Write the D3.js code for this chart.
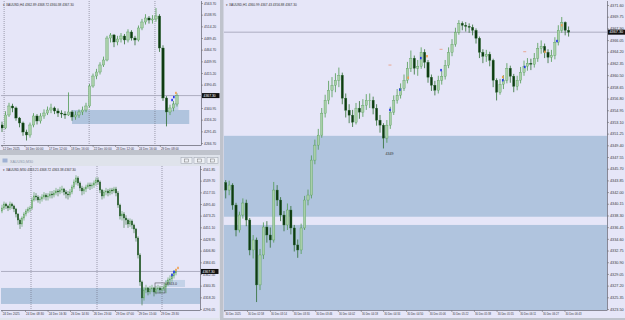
<!DOCTYPE html>
<html>
<head>
<meta charset="utf-8">
<script src="https://cdn.jsdelivr.net/npm/d3@7"></script>
<style>
    body { margin: 0; background: #bfc3cc; }
    svg { display: block; }
</style>
</head>
<body>
<div id="chart"></div>
<script>
// ---------- H4 (左上) ----------
var h4Open0 = 4305;
var h4Close = [4298.5, 4326.1, 4345.2, 4341.0, 4319.7, 4309.1, 4290.0, 4283.7, 4304.9, 4324.0,
    4313.4, 4324.0, 4330.3, 4336.7, 4341.0, 4334.6, 4330.3, 4328.2, 4326.1, 4332.5,
    4321.9, 4326.1, 4332.5, 4336.7, 4345.2, 4387.6, 4408.8, 4417.3, 4432.2, 4442.8,
    4489.4, 4495.8, 4481.0, 4487.3, 4493.7, 4485.2, 4502.2, 4489.4, 4485.2, 4510.7,
    4523.4, 4531.9, 4527.6, 4529.8, 4536.1, 4468.2, 4362.2, 4332.5, 4341.0, 4349.4, 4367.3];
var h4High = [4312, 4334, 4352, 4350, 4344, 4322, 4312, 4295, 4310, 4330,
    4328, 4330, 4338, 4344, 4350, 4344, 4340, 4336, 4334, 4374,
    4336, 4334, 4338, 4344, 4352, 4392, 4414, 4424, 4438, 4450,
    4494, 4500, 4498, 4494, 4500, 4498, 4508, 4506, 4494, 4516,
    4530, 4540, 4536, 4538, 4553, 4540, 4474, 4366, 4348, 4356, 4372];
var h4Low = [4290, 4296, 4322, 4332, 4314, 4300, 4282, 4272, 4278, 4300,
    4306, 4308, 4318, 4326, 4330, 4328, 4322, 4320, 4318, 4324,
    4314, 4316, 4320, 4326, 4332, 4342, 4384, 4402, 4412, 4428,
    4440, 4480, 4470, 4474, 4480, 4476, 4480, 4484, 4474, 4482,
    4506, 4518, 4520, 4520, 4524, 4460, 4356, 4302, 4326, 4334, 4344];
var h4PriceTicks = ["4563.70", "4538.95", "4514.20", "4489.45", "4464.70", "4439.95", "4415.20",
    "4390.45", "4365.70", "4340.95", "4316.20", "4291.45", "4266.70"];
var h4TimeLabels = ["12 Dec 2025", "16 Dec 00:00", "17 Dec 12:00", "18 Dec 16:00",
    "22 Dec 00:00", "23 Dec 12:00", "24 Dec 16:00", "29 Dec 08:00"];
var h4TimeIdx = [-0.1, 6.4, 13.1, 19.4, 25.9, 32.3, 38.8, 45.1];
var h4SepIdx = [0.6, 24.9, 43.7];
var h4Zones = [[20, 53.5, 4336.7, 4307.0]];
var h4Boxes = [[48.6, 50.4, 4351.6, 4336.7]];
var h4BlueMarks = [[48.6, 4357.9], [49.1, 4364.1]];
var h4OrangeMarks = [[49.7, 4372.8]];

// ---------- M30 (左下) ----------
var m30Open0 = 4482;
var m30Close = [4487.8, 4495.4, 4491.6, 4487.8, 4495.4, 4491.6, 4485.9, 4476.4, 4465.0, 4457.4,
    4468.8, 4476.4, 4482.1, 4485.9, 4487.8, 4503.0, 4510.6, 4508.7, 4503.0, 4504.9,
    4508.7, 4512.5, 4508.7, 4510.6, 4514.4, 4512.5, 4516.3, 4520.1, 4518.2, 4522.0,
    4523.9, 4518.2, 4514.4, 4512.5, 4518.2, 4527.7, 4537.2, 4544.8, 4535.3, 4525.8,
    4520.1, 4523.9, 4527.7, 4531.5, 4529.6, 4531.5, 4535.3, 4541.0, 4537.2, 4522.0,
    4510.6, 4518.2, 4520.1, 4516.3, 4522.0, 4520.1, 4523.9, 4516.3, 4493.5, 4472.7,
    4476.4, 4468.8, 4465.0, 4457.4, 4463.1, 4455.5, 4447.9, 4430.9, 4398.6, 4347.4,
    4317.0, 4332.2, 4336.0, 4328.4, 4334.1, 4336.0, 4328.4, 4334.1, 4336.0, 4332.2,
    4334.1, 4337.9, 4343.6, 4351.2, 4353.1, 4358.8, 4364.5, 4367.3];
var m30High = [4494, 4500, 4498, 4494, 4500, 4498, 4494, 4488, 4478, 4468,
    4472, 4480, 4486, 4490, 4492, 4508, 4518, 4516, 4512, 4510,
    4514, 4518, 4516, 4516, 4520, 4520, 4522, 4526, 4524, 4528,
    4530, 4526, 4522, 4520, 4524, 4532, 4542, 4550, 4548, 4538,
    4530, 4528, 4532, 4536, 4536, 4536, 4540, 4546, 4546, 4540,
    4524, 4522, 4526, 4524, 4526, 4526, 4528, 4528, 4520, 4496,
    4482, 4480, 4474, 4468, 4468, 4466, 4458, 4450, 4434, 4402,
    4350, 4338, 4342, 4338, 4340, 4342, 4338, 4340, 4342, 4340,
    4340, 4344, 4350, 4356, 4360, 4364, 4370, 4372];
var m30Low = [4478, 4484, 4486, 4482, 4484, 4486, 4480, 4470, 4456, 4448,
    4452, 4464, 4472, 4478, 4480, 4484, 4500, 4502, 4498, 4496,
    4500, 4504, 4502, 4502, 4506, 4506, 4508, 4512, 4510, 4514,
    4516, 4512, 4506, 4504, 4508, 4514, 4524, 4532, 4530, 4520,
    4512, 4514, 4518, 4524, 4522, 4524, 4526, 4530, 4532, 4516,
    4504, 4506, 4512, 4510, 4512, 4514, 4516, 4510, 4488, 4466,
    4464, 4450, 4456, 4450, 4452, 4448, 4440, 4424, 4392, 4340,
    4303, 4312, 4326, 4322, 4324, 4328, 4320, 4324, 4328, 4326,
    4326, 4330, 4326, 4340, 4344, 4348, 4354, 4360];
var m30PriceTicks = ["4561.85", "4539.70", "4517.55", "4495.40", "4473.25", "4451.10", "4428.95",
    "4406.80", "4384.65", "4362.50", "4340.35", "4318.20", "4296.05"];
var m30TimeLabels = ["24 Dec 2025", "24 Dec 08:30", "24 Dec 16:30", "26 Dec 14:30",
    "26 Dec 23:00", "29 Dec 07:00", "29 Dec 15:00", "29 Dec 23:30"];
var m30TimeIdx = [-0.2, 11.5, 22.8, 34, 45.3, 56.5, 67.8, 79];
var m30SepIdx = [14.5, 47.5, 80];
var m30Zones = [[-2, 110, 4336.0, 4305.6]];
var m30Boxes = [[81.5, 91.5, 4351.2, 4337.9]];
var m30Frames = [[76.5, 81.5, 4345.5, 4326.5]];
var m30BlueMarks = [[85, 4360.7], [86, 4366.4]];
var m30OrangeMarks = [[87, 4370.2], [88, 4374.0]];
var m30Notes = [[82, 4341.7, "4343.0"]];

// ---------- H1 (右) ----------
var h1Open0 = 4343.5;
var h1Close = [4342.32, 4343.11, 4339.95, 4336.00, 4338.37, 4340.27, 4337.58, 4332.84, 4334.42, 4327.31,
    4332.05, 4336.47, 4335.21, 4334.42, 4342.32, 4340.74, 4338.37, 4336.79, 4339.16, 4336.32,
    4333.63, 4332.84, 4336.32, 4340.74, 4341.53, 4347.06, 4349.43, 4351.01, 4354.49, 4356.54,
    4358.12, 4358.91, 4359.70, 4360.49, 4356.86, 4354.96, 4354.17, 4353.06, 4355.28, 4354.65,
    4355.75, 4356.54, 4356.54, 4355.28, 4353.38, 4352.59, 4350.54, 4352.59, 4354.65, 4356.54,
    4357.33, 4358.44, 4359.70, 4361.60, 4363.18, 4361.60, 4361.91, 4364.12, 4362.54, 4360.17,
    4358.91, 4358.12, 4359.70, 4360.33, 4362.07, 4364.12, 4365.39, 4367.28, 4368.71, 4368.39,
    4368.23, 4368.07, 4367.60, 4366.34, 4364.12, 4363.49, 4363.81, 4362.86, 4359.70, 4357.80,
    4359.07, 4359.70, 4361.60, 4360.33, 4358.75, 4359.70, 4360.96, 4361.91, 4362.39, 4362.23,
    4363.18, 4364.76, 4365.07, 4364.12, 4363.33, 4363.65, 4365.70, 4367.60, 4368.86, 4367.60,
    4367.30];
var h1High = [4343.9, 4343.8, 4343.4, 4340.3, 4338.9, 4341.0, 4340.8, 4337.9, 4335.2, 4334.8,
    4333.0, 4337.2, 4337.4, 4336.4, 4343.6, 4343.1, 4341.2, 4339.0, 4340.2, 4339.8,
    4336.8, 4334.5, 4337.0, 4341.4, 4342.4, 4347.8, 4350.3, 4352.0, 4355.3, 4357.4,
    4359.6, 4360.2, 4360.8, 4361.7, 4360.9, 4357.6, 4355.9, 4355.0, 4356.1, 4356.4,
    4356.7, 4357.5, 4357.6, 4357.1, 4355.9, 4354.2, 4352.9, 4353.4, 4355.5, 4357.3,
    4358.3, 4359.2, 4360.6, 4362.6, 4364.4, 4363.6, 4362.9, 4364.9, 4364.6, 4362.9,
    4360.6, 4359.6, 4360.4, 4361.2, 4362.9, 4364.9, 4366.2, 4368.0, 4369.2, 4369.0,
    4368.9, 4368.7, 4368.5, 4367.9, 4366.6, 4364.6, 4364.5, 4364.2, 4363.1, 4360.0,
    4359.9, 4360.5, 4362.4, 4362.0, 4360.7, 4360.4, 4361.8, 4362.8, 4363.2, 4363.1,
    4364.0, 4365.6, 4366.0, 4365.5, 4364.6, 4364.5, 4366.5, 4368.4, 4369.7, 4369.0,
    4368.2];
var h1Low = [4341.0, 4341.5, 4339.2, 4335.0, 4335.6, 4337.8, 4336.6, 4332.0, 4331.5, 4324.6,
    4326.5, 4331.4, 4334.0, 4333.2, 4334.0, 4339.8, 4337.4, 4335.8, 4336.0, 4335.3,
    4332.6, 4331.6, 4332.2, 4336.0, 4339.9, 4341.0, 4346.4, 4348.7, 4350.6, 4353.8,
    4355.9, 4357.0, 4357.8, 4358.6, 4355.9, 4353.8, 4352.9, 4352.3, 4352.7, 4353.6,
    4353.9, 4355.0, 4355.3, 4354.3, 4352.5, 4351.4, 4348.9, 4349.8, 4352.0, 4354.2,
    4356.0, 4356.8, 4358.0, 4359.2, 4361.0, 4360.6, 4360.4, 4361.5, 4361.6, 4359.3,
    4358.0, 4357.3, 4357.6, 4359.0, 4359.8, 4361.6, 4363.5, 4365.0, 4366.9, 4367.6,
    4367.4, 4367.2, 4366.8, 4365.5, 4363.2, 4362.4, 4362.6, 4361.9, 4358.6, 4356.5,
    4357.4, 4358.3, 4359.2, 4359.3, 4357.8, 4358.1, 4359.2, 4360.4, 4361.2, 4361.3,
    4361.7, 4362.6, 4363.9, 4363.2, 4362.4, 4362.6, 4363.0, 4365.2, 4367.2, 4366.8,
    4366.6];
var h1PriceTicks = ["4371.60", "4369.75", "4367.90", "4366.05", "4364.20", "4362.35", "4360.50",
    "4358.65", "4356.80", "4354.95", "4353.10", "4351.25", "4349.40", "4347.55", "4345.70",
    "4343.85", "4342.00", "4340.15", "4338.30", "4336.45", "4334.60", "4332.75", "4330.90",
    "4329.05", "4327.20", "4325.35", "4323.50"];
var h1TimeLabels = ["30 Dec 2025", "30 Dec 02:58", "30 Dec 03:14", "30 Dec 03:30", "30 Dec 03:46",
    "30 Dec 04:02", "30 Dec 04:18", "30 Dec 04:34", "30 Dec 04:50", "30 Dec 05:06", "30 Dec 05:22",
    "30 Dec 05:38", "30 Dec 05:55", "30 Dec 06:11", "30 Dec 06:27", "30 Dec 06:43"];
var h1TimeIdx = [-0.4, 6.2, 12.9, 19.5, 26.1, 32.7, 39.4, 45.9, 52.6, 59.2, 65.8, 72.4, 79.0, 85.6, 92.2, 98.8];
var h1Zones = [[-2, 125, 4350.9, 4338.1], [-2, 125, 4336.8, 4300]];
var h1BlueMarks = [[47.9, 4355.0], [50.8, 4358.2], [56.9, 4363.2], [62.8, 4361.3], [80.8, 4359.7], [87.2, 4361.8], [96.6, 4365.9]];
var h1OrangeMarks = [[53.2, 4360.1], [58.7, 4363.5], [80.8, 4360.2], [93.1, 4364.2], [98.0, 4368.4]];
var h1PinkDashes = [[47.9, 4362.1], [62.8, 4364.6], [87.2, 4364.2]];
var h1Notes = [[46.6, 4347.8, "4349"]];

var lastPrice = 4367.30;

// 颜色
var bgColor = "#e6e6f8";
var zoneColor = "#b0c4de";
var boxColor = "#c3d2e8";
var bullFill = "#a8cfa8", bullStroke = "#4f9a52";
var bearFill = "#0f3b12", bearStroke = "#2d6c31";
var font = "'Liberation Sans', Arial, sans-serif";

var svg = d3.select("#chart")
    .append("svg")
    .attr("width", 625)
    .attr("height", 320);

// 画一个图表窗格
function drawPane(p) {
    var x = d3.scaleLinear().domain(p.xDomain).range([p.left, p.right]);
    var y = d3.scaleLinear().domain(p.yDomain).range(p.yRange);
    var step = x(1) - x(0);
    var bw = step * p.bodyRatio;

    // 背景
    svg.append("rect")
        .attr("x", p.paneX).attr("y", p.paneY)
        .attr("width", p.paneW).attr("height", p.paneH)
        .attr("fill", bgColor);

    var clipId = "clip_" + p.id;
    svg.append("clipPath").attr("id", clipId)
        .append("rect")
        .attr("x", p.left).attr("y", p.top)
        .attr("width", p.right - p.left).attr("height", p.bottom - p.top);

    var plot = svg.append("g").attr("clip-path", "url(#" + clipId + ")");

    // 区域
    plot.selectAll("rect.zone").data(p.zones).enter().append("rect")
        .attr("class", "zone")
        .attr("x", function (d) { return x(d[0]); })
        .attr("width", function (d) { return x(d[1]) - x(d[0]); })
        .attr("y", function (d) { return y(d[2]); })
        .attr("height", function (d) { return y(d[3]) - y(d[2]); })
        .attr("fill", zoneColor);
    plot.selectAll("rect.box").data(p.boxes || []).enter().append("rect")
        .attr("class", "box")
        .attr("x", function (d) { return x(d[0]); })
        .attr("width", function (d) { return x(d[1]) - x(d[0]); })
        .attr("y", function (d) { return y(d[2]); })
        .attr("height", function (d) { return y(d[3]) - y(d[2]); })
        .attr("fill", boxColor);
    plot.selectAll("rect.frame").data(p.frames || []).enter().append("rect")
        .attr("class", "frame")
        .attr("x", function (d) { return x(d[0]); })
        .attr("width", function (d) { return x(d[1]) - x(d[0]); })
        .attr("y", function (d) { return y(d[2]); })
        .attr("height", function (d) { return y(d[3]) - y(d[2]); })
        .attr("fill", "none")
        .attr("stroke", "#333")
        .attr("stroke-width", 0.5);

    // 分隔线
    plot.selectAll("line.sep").data(p.seps || []).enter().append("line")
        .attr("class", "sep")
        .attr("x1", function (d) { return x(d); })
        .attr("x2", function (d) { return x(d); })
        .attr("y1", p.top).attr("y2", p.bottom)
        .attr("stroke", "#6a6a78")
        .attr("stroke-width", 0.6)
        .attr("stroke-dasharray", "1,1");

    // 现价线
    plot.append("line")
        .attr("x1", p.left).attr("x2", p.right)
        .attr("y1", y(lastPrice)).attr("y2", y(lastPrice))
        .attr("stroke", "#a0a0b4")
        .attr("stroke-width", 0.8);

    // K线
    var candles = p.close.map(function (c, i) {
        return { i: i, o: i === 0 ? p.open0 : p.close[i - 1], h: p.high[i], l: p.low[i], c: c };
    });
    var cg = plot.selectAll("g.candle").data(candles).enter().append("g").attr("class", "candle");
    cg.append("line")
        .attr("x1", function (d) { return x(d.i); })
        .attr("x2", function (d) { return x(d.i); })
        .attr("y1", function (d) { return y(d.h); })
        .attr("y2", function (d) { return y(d.l); })
        .attr("stroke", function (d) { return d.c >= d.o ? bullStroke : bearStroke; })
        .attr("stroke-width", p.wick);
    cg.append("rect")
        .attr("x", function (d) { return x(d.i) - bw / 2; })
        .attr("width", bw)
        .attr("y", function (d) { return y(Math.max(d.o, d.c)); })
        .attr("height", function (d) { return Math.max(0.6, Math.abs(y(d.o) - y(d.c))); })
        .attr("fill", function (d) { return d.c >= d.o ? bullFill : bearFill; })
        .attr("stroke", function (d) { return d.c >= d.o ? bullStroke : bearStroke; })
        .attr("stroke-width", 0.35);

    // 指标标记
    plot.selectAll("rect.pink").data(p.pink || []).enter().append("rect")
        .attr("class", "pink")
        .attr("x", function (d) { return x(d[0]) - 1.5; })
        .attr("y", function (d) { return y(d[1]) - 0.4; })
        .attr("width", 3).attr("height", 0.8)
        .attr("fill", "#e8967a");
    plot.selectAll("rect.blue").data(p.blue || []).enter().append("rect")
        .attr("class", "blue")
        .attr("x", function (d) { return x(d[0]) - 0.8; })
        .attr("y", function (d) { return y(d[1]) - 1.2; })
        .attr("width", 1.6).attr("height", 2.4)
        .attr("fill", "#2233ee");
    plot.selectAll("rect.orange").data(p.orange || []).enter().append("rect")
        .attr("class", "orange")
        .attr("x", function (d) { return x(d[0]) - 0.8; })
        .attr("y", function (d) { return y(d[1]) - 1.2; })
        .attr("width", 1.6).attr("height", 2.4)
        .attr("fill", "#f0a050");
    plot.selectAll("text.note").data(p.notes || []).enter().append("text")
        .attr("class", "note")
        .attr("x", function (d) { return x(d[0]); })
        .attr("y", function (d) { return y(d[1]); })
        .attr("font-family", font)
        .attr("font-size", 3.6)
        .attr("fill", "#333")
        .text(function (d) { return d[2]; });

    // 边框
    svg.append("line")
        .attr("x1", p.right + 0.5).attr("x2", p.right + 0.5)
        .attr("y1", p.top).attr("y2", p.bottom)
        .attr("stroke", "#70707c").attr("stroke-width", 0.8);
    svg.append("line")
        .attr("x1", p.left).attr("x2", p.right + 0.5)
        .attr("y1", p.bottom + 0.5).attr("y2", p.bottom + 0.5)
        .attr("stroke", "#70707c").attr("stroke-width", 0.8);

    // 价格轴
    var yAxis = d3.axisRight(y)
        .tickValues(p.priceTicks.map(Number))
        .tickFormat(function (d, i) { return p.priceTicks[i]; })
        .tickSize(1.5)
        .tickPadding(1);
    var ya = svg.append("g")
        .attr("transform", "translate(" + (p.right + 0.5) + ",0)")
        .call(yAxis);
    ya.select(".domain").remove();
    ya.attr("font-family", font).attr("font-size", p.priceFont);
    ya.selectAll("line").attr("stroke", "#555").attr("stroke-width", 0.5);
    ya.selectAll("text").attr("fill", "#3a3a44");

    // 时间轴
    var xAxis = d3.axisBottom(x)
        .tickValues(p.timeIdx)
        .tickFormat(function (d, i) { return p.timeLabels[i]; })
        .tickSize(1.5)
        .tickPadding(0.6);
    var xa = svg.append("g")
        .attr("transform", "translate(0," + (p.bottom + 0.5) + ")")
        .call(xAxis);
    xa.select(".domain").remove();
    xa.attr("font-family", font).attr("font-size", p.timeFont);
    xa.selectAll("line").attr("stroke", "#555").attr("stroke-width", 0.5);
    xa.selectAll("text").attr("text-anchor", "start").attr("dx", 0.6).attr("fill", "#3a3a44");

    // 现价标签
    svg.append("rect")
        .attr("x", p.right + 1)
        .attr("y", y(lastPrice) - 2.5)
        .attr("width", 17.5).attr("height", 5)
        .attr("fill", "#111");
    svg.append("text")
        .attr("x", p.right + 2.5)
        .attr("y", y(lastPrice) + 1.3)
        .attr("font-family", font)
        .attr("font-size", p.priceFont)
        .attr("fill", "#fff")
        .text(lastPrice.toFixed(2));

    // 标题
    svg.append("text")
        .attr("x", p.left + 2)
        .attr("y", p.top + 4.5)
        .attr("font-family", font)
        .attr("font-size", 3.2)
        .attr("fill", "#333")
        .text("\u25BE " + p.title);
}

drawPane({
    id: "h4", paneX: 0, paneY: 0, paneW: 220, paneH: 150,
    left: 1, right: 201, top: 1, bottom: 145,
    xDomain: [-0.29, 56.86], yDomain: [4266.70, 4563.70], yRange: [143, 3],
    bodyRatio: 0.68, wick: 0.8,
    open0: h4Open0, close: h4Close, high: h4High, low: h4Low,
    priceTicks: h4PriceTicks, timeLabels: h4TimeLabels, timeIdx: h4TimeIdx,
    seps: h4SepIdx, zones: h4Zones, boxes: h4Boxes,
    blue: h4BlueMarks, orange: h4OrangeMarks,
    priceFont: 3.4, timeFont: 3,
    title: "XAUUSD,H4  4362.89 4368.72 4360.38 4367.30"
});

// M30 窗口标题栏
svg.append("rect")
    .attr("x", 0).attr("y", 155).attr("width", 220).attr("height", 165)
    .attr("fill", "#dfe3eb");
svg.append("rect")
    .attr("x", 2.5).attr("y", 158.5).attr("width", 5).attr("height", 4)
    .attr("fill", "#9fb2d4");
svg.append("text")
    .attr("x", 10).attr("y", 162.5)
    .attr("font-family", font).attr("font-size", 3.6)
    .attr("fill", "#8c96aa")
    .text("XAUUSD,M30");
[0, 1, 2].forEach(function (k) {
    var bx = 181 + k * 13;
    svg.append("rect")
        .attr("x", bx).attr("y", 157.5).attr("width", 11).attr("height", 6)
        .attr("fill", "#eceff4").attr("stroke", "#9aa0ab").attr("stroke-width", 0.5);
    svg.append("rect")
        .attr("x", bx + 3.5).attr("y", 159).attr("width", 4).attr("height", 3)
        .attr("fill", "none").attr("stroke", "#777").attr("stroke-width", 0.5);
});

drawPane({
    id: "m30", paneX: 0, paneY: 166, paneW: 219, paneH: 152,
    left: 1, right: 200, top: 166, bottom: 310,
    xDomain: [-0.5, 99], yDomain: [4296.05, 4561.85], yRange: [309, 169],
    bodyRatio: 0.65, wick: 0.6,
    open0: m30Open0, close: m30Close, high: m30High, low: m30Low,
    priceTicks: m30PriceTicks, timeLabels: m30TimeLabels, timeIdx: m30TimeIdx,
    seps: m30SepIdx, zones: m30Zones, boxes: m30Boxes, frames: m30Frames,
    blue: m30BlueMarks, orange: m30OrangeMarks, notes: m30Notes,
    priceFont: 3.4, timeFont: 3,
    title: "XAUUSD,M30  4363.21 4368.72 4363.38 4367.30"
});

drawPane({
    id: "h1", paneX: 223.5, paneY: 0, paneW: 401.5, paneH: 318,
    left: 224, right: 607, top: 1, bottom: 310,
    xDomain: [-0.5, 111.2], yDomain: [4323.50, 4371.60], yRange: [309, 5],
    bodyRatio: 0.66, wick: 0.8,
    open0: h1Open0, close: h1Close, high: h1High, low: h1Low,
    priceTicks: h1PriceTicks, timeLabels: h1TimeLabels, timeIdx: h1TimeIdx,
    zones: h1Zones, blue: h1BlueMarks, orange: h1OrangeMarks, pink: h1PinkDashes, notes: h1Notes,
    priceFont: 3.8, timeFont: 2.7,
    title: "XAUUSD,H1  4360.99 4367.43 4356.88 4367.30"
});
</script>
</body>
</html>
